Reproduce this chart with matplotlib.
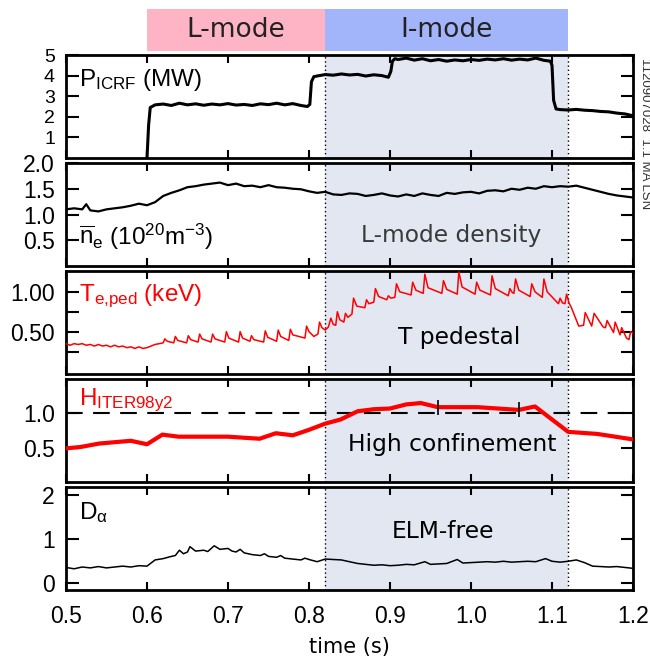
import numpy as np
import matplotlib
matplotlib.use('Agg')
import matplotlib.pyplot as plt

plt.rcParams['font.family'] = ['Liberation Sans', 'DejaVu Sans']
plt.rcParams['mathtext.fontset'] = 'custom'
plt.rcParams['mathtext.rm'] = 'Liberation Sans'
plt.rcParams['mathtext.it'] = 'Liberation Sans:italic'
plt.rcParams['mathtext.default'] = 'regular'

# ICRF power (MW)
p_t = [0.600, 0.602, 0.604, 0.61, 0.62, 0.63, 0.64, 0.65, 0.66, 0.67, 0.68,
       0.69, 0.70, 0.71, 0.72, 0.73, 0.74, 0.75, 0.76, 0.77, 0.78, 0.79, 0.798, 0.801,
       0.803, 0.806, 0.81, 0.82, 0.83, 0.84, 0.85, 0.86, 0.87, 0.88, 0.89, 0.898, 0.901,
       0.903, 0.906, 0.91, 0.92, 0.93, 0.94, 0.95, 0.96, 0.97, 0.98, 0.99, 1.00, 1.01,
       1.02, 1.03, 1.04, 1.05, 1.06, 1.07, 1.08, 1.09, 1.098, 1.100, 1.102, 1.105, 1.11,
       1.12, 1.13, 1.14, 1.15, 1.16, 1.17, 1.18, 1.19, 1.20]
p_v = [0.0, 1.6, 2.45, 2.58, 2.62, 2.55, 2.66, 2.58, 2.63, 2.56, 2.62,
       2.58, 2.64, 2.57, 2.60, 2.55, 2.63, 2.59, 2.66, 2.58, 2.64, 2.55, 2.50, 2.6,
       3.7, 3.95, 3.98, 4.05, 4.02, 4.08, 4.03, 4.06, 3.98, 4.04, 4.0, 3.92, 4.2,
       4.7, 4.82, 4.78, 4.85, 4.75, 4.82, 4.72, 4.78, 4.70, 4.76, 4.72, 4.78, 4.74,
       4.80, 4.76, 4.82, 4.75, 4.80, 4.76, 4.85, 4.74, 4.70, 4.5, 2.8, 2.38, 2.35,
       2.33, 2.36, 2.32, 2.30, 2.26, 2.24, 2.18, 2.14, 2.05]

# line averaged density (1e20 m^-3)
ne_t = [0.50, 0.51, 0.52, 0.525, 0.53, 0.54, 0.55, 0.56, 0.57, 0.58, 0.59, 0.60, 0.61,
        0.62, 0.63, 0.64, 0.65, 0.66, 0.67, 0.68, 0.69, 0.70, 0.71, 0.72, 0.73, 0.74,
        0.75, 0.76, 0.77, 0.78, 0.79, 0.80, 0.81, 0.82, 0.83, 0.84, 0.85, 0.86, 0.87,
        0.88, 0.89, 0.90, 0.91, 0.92, 0.93, 0.94, 0.95, 0.96, 0.97, 0.98, 0.99, 1.00,
        1.01, 1.02, 1.03, 1.04, 1.05, 1.06, 1.07, 1.08, 1.09, 1.10, 1.11, 1.12, 1.13,
        1.14, 1.15, 1.16, 1.17, 1.18, 1.19, 1.20]
ne_v = [1.10, 1.12, 1.10, 1.20, 1.08, 1.06, 1.10, 1.12, 1.14, 1.17, 1.21, 1.18, 1.24,
        1.36, 1.42, 1.47, 1.53, 1.55, 1.58, 1.60, 1.62, 1.57, 1.60, 1.55, 1.56, 1.53,
        1.57, 1.53, 1.52, 1.50, 1.49, 1.45, 1.42, 1.44, 1.39, 1.38, 1.41, 1.40, 1.36,
        1.38, 1.41, 1.37, 1.35, 1.39, 1.36, 1.41, 1.38, 1.36, 1.42, 1.40, 1.43, 1.44,
        1.41, 1.46, 1.47, 1.45, 1.50, 1.48, 1.52, 1.50, 1.55, 1.53, 1.55, 1.54, 1.56,
        1.52, 1.48, 1.44, 1.40, 1.37, 1.35, 1.33]

# pedestal temperature (keV)
te_t = [0.500, 0.505, 0.510, 0.515, 0.520, 0.525, 0.530, 0.535, 0.540, 0.545, 0.550,
        0.555, 0.560, 0.565, 0.570, 0.575, 0.580, 0.585, 0.590, 0.595, 0.600, 0.605,
        0.610, 0.615, 0.620,
        0.622, 0.625, 0.633, 0.635, 0.638, 0.649, 0.651, 0.654, 0.663, 0.665, 0.668,
        0.679, 0.681, 0.684, 0.696, 0.698, 0.701, 0.713, 0.715, 0.718, 0.727, 0.729,
        0.732, 0.744, 0.746, 0.749, 0.760, 0.762, 0.765, 0.775, 0.777, 0.780, 0.795,
        0.797, 0.800, 0.806, 0.811, 0.813, 0.816, 0.820, 0.824, 0.827, 0.830, 0.833,
        0.835, 0.838, 0.843, 0.845, 0.848, 0.853, 0.855, 0.859, 0.869, 0.871, 0.874,
        0.880, 0.882, 0.886, 0.896, 0.898, 0.901, 0.906, 0.908, 0.912, 0.926, 0.928,
        0.932, 0.941, 0.943, 0.947, 0.964, 0.966, 0.970, 0.983, 0.985, 0.989, 1.005,
        1.007, 1.011, 1.024, 1.026, 1.030, 1.046, 1.048, 1.051, 1.053, 1.055, 1.059,
        1.073, 1.075, 1.079, 1.088, 1.090, 1.094, 1.108, 1.110, 1.113, 1.116, 1.118,
        1.121, 1.124, 1.133, 1.139, 1.141, 1.149, 1.152, 1.163, 1.166, 1.168, 1.176,
        1.178, 1.184, 1.186, 1.192, 1.195, 1.197, 1.200]
te_v = [0.35, 0.33, 0.35, 0.34, 0.35, 0.33, 0.34, 0.32, 0.34, 0.32, 0.33,
        0.31, 0.33, 0.31, 0.32, 0.30, 0.31, 0.29, 0.31, 0.29, 0.30, 0.32,
        0.34, 0.35, 0.36,
        0.41, 0.38, 0.36, 0.44, 0.39, 0.36, 0.45, 0.40, 0.37, 0.47, 0.41,
        0.37, 0.47, 0.41, 0.37, 0.50, 0.42, 0.37, 0.50, 0.42, 0.38, 0.45,
        0.40, 0.37, 0.51, 0.43, 0.38, 0.52, 0.44, 0.39, 0.53, 0.46, 0.42,
        0.57, 0.50, 0.44, 0.47, 0.62, 0.55, 0.52, 0.56, 0.67, 0.59, 0.58,
        0.75, 0.65, 0.62, 0.73, 0.68, 0.72, 0.92, 0.82, 0.80, 0.90, 0.85,
        0.87, 1.04, 0.94, 0.90, 0.95, 0.92, 0.93, 1.10, 1.00, 0.96, 1.12,
        1.02, 0.98, 1.22, 1.05, 0.98, 1.14, 1.03, 0.97, 1.25, 1.06, 0.97,
        1.12, 1.02, 0.96, 1.20, 1.04, 0.95, 1.04, 0.99, 0.98, 1.16, 1.02,
        0.94, 1.10, 1.00, 0.93, 1.16, 1.00, 0.85, 0.92, 0.86, 0.85, 0.97,
        0.86, 0.80, 0.57, 0.58, 0.74, 0.57, 0.73, 0.56, 0.55, 0.64, 0.49,
        0.62, 0.46, 0.55, 0.42, 0.40, 0.50, 0.48]

# confinement factor H_ITER98y2
h_t = [0.50, 0.518, 0.541, 0.58, 0.60, 0.619, 0.639, 0.70, 0.739, 0.759, 0.78, 0.80,
       0.82, 0.839, 0.86, 0.88, 0.90, 0.92, 0.938, 0.959, 1.008, 1.059, 1.079, 1.12,
       1.156, 1.20]
h_v = [0.49, 0.51, 0.56, 0.60, 0.55, 0.69, 0.66, 0.66, 0.63, 0.71, 0.68, 0.76,
       0.85, 0.91, 1.03, 1.06, 1.07, 1.13, 1.15, 1.09, 1.09, 1.05, 1.10, 0.73,
       0.70, 0.62]
h_err_t = [0.959, 1.059]
h_err_v = [1.09, 1.05]
h_err = [0.11, 0.11]

# D-alpha
da_t = [0.50, 0.51, 0.52, 0.53, 0.54, 0.55, 0.56, 0.57, 0.58, 0.59, 0.60, 0.605, 0.61,
        0.62, 0.63, 0.635, 0.64, 0.645, 0.65, 0.653, 0.66, 0.67, 0.675, 0.683, 0.69,
        0.70, 0.705, 0.71, 0.715, 0.72, 0.73, 0.74, 0.745, 0.75, 0.76, 0.765, 0.77,
        0.78, 0.79, 0.795, 0.80, 0.81, 0.82, 0.83, 0.84, 0.85, 0.86, 0.87, 0.88, 0.89,
        0.90, 0.91, 0.92, 0.93, 0.943, 0.95, 0.96, 0.97, 0.983, 0.99, 1.00, 1.01, 1.02,
        1.03, 1.04, 1.05, 1.06, 1.07, 1.08, 1.092, 1.10, 1.11, 1.12, 1.13, 1.14, 1.15,
        1.16, 1.17, 1.18, 1.19, 1.20]
da_v = [0.35, 0.32, 0.36, 0.34, 0.37, 0.34, 0.36, 0.38, 0.36, 0.39, 0.38, 0.45, 0.52,
        0.55, 0.60, 0.62, 0.74, 0.66, 0.70, 0.82, 0.72, 0.74, 0.71, 0.84, 0.76,
        0.78, 0.72, 0.70, 0.76, 0.68, 0.64, 0.62, 0.66, 0.60, 0.58, 0.62, 0.56,
        0.54, 0.52, 0.56, 0.53, 0.48, 0.54, 0.53, 0.52, 0.48, 0.44, 0.42, 0.40, 0.41,
        0.39, 0.40, 0.42, 0.41, 0.48, 0.42, 0.43, 0.44, 0.53, 0.45, 0.46, 0.47, 0.48,
        0.47, 0.49, 0.47, 0.48, 0.49, 0.48, 0.55, 0.49, 0.47, 0.49, 0.52, 0.46, 0.38,
        0.37, 0.36, 0.37, 0.35, 0.33]

l_mode = (0.60, 0.82)
i_mode = (0.82, 1.12)
x_ticks = [0.5, 0.6, 0.7, 0.8, 0.9, 1.0, 1.1, 1.2]

shade = '#E3E7F2'
red = '#FF0000'
note_font = dict(fontsize=16.8, family='DejaVu Sans', ha='center', va='baseline')

W, H = 650, 658
fig = plt.figure(figsize=(6.5, 6.58), dpi=100)
left = 66 / W
width = (633 - 66) / W
tops = [55, 163, 271, 379, 487]
ph = 103
axes = [fig.add_axes([left, 1 - (t + ph) / H, width, ph / H]) for t in tops]

for ax in axes:
    ax.set_xlim(0.5, 1.2)
    ax.axvspan(i_mode[0], i_mode[1], color=shade, lw=0, zorder=0)
    for x in i_mode:
        ax.axvline(x, color='k', ls=(0, (1, 2)), lw=1, zorder=1)
    ax.set_xticks(x_ticks)
    ax.set_xticklabels(['%.1f' % x for x in x_ticks])
    ax.tick_params(axis='y', direction='in', left=True, right=True, length=9,
                   width=1.5, pad=8, labelsize=16.5)
    ax.tick_params(axis='x', direction='in', top=True, bottom=True, length=6,
                   width=1.5, pad=11, labelsize=16.5)
    for s in ax.spines.values():
        s.set_linewidth(2)
    if ax is not axes[-1]:
        ax.tick_params(labelbottom=False)

ax1, ax2, ax3, ax4, ax5 = axes

# P_ICRF
ax1.plot(p_t, p_v, color='k', lw=2.2, zorder=3)
ax1.set_ylim(0, 5)
ax1.set_yticks([1, 2, 3, 4, 5])
ax1.tick_params(axis='y', labelsize=14)
ax1.text(0.516, 3.5, r'P$_{\rm ICRF}$ (MW)', fontsize=17.5, va='baseline', ha='left')

# density
ax2.plot(ne_t, ne_v, color='k', lw=1.6, zorder=3)
ax2.set_ylim(0, 2.0)
ax2.set_yticks([0.5, 1.0, 1.5, 2.0])
ax2.set_yticklabels(['0.5', '1.0', '1.5', '2.0'])
ax2.text(0.516, 0.41, r'$\overline{n}_e$ (10$^{20}$m$^{-3}$)', fontsize=17.5,
         va='baseline', ha='left')
ax2.text(0.975, 0.47, 'L-mode density', color='#3a3a3a', **note_font)

# T pedestal
ax3.plot(te_t, te_v, color=red, lw=1.1, zorder=3)
ax3.set_ylim(-0.03, 1.26)
ax3.set_yticks([0.25, 0.5, 0.75, 1.0])
ax3.set_yticklabels(['', '0.50', '', '1.00'])
ax3.text(0.516, 0.88, r'T$_{\rm e{,}ped}$ (keV)', fontsize=17.5, color=red,
         va='baseline', ha='left')
ax3.text(0.985, 0.344, 'T pedestal', **note_font)

# H factor
ax4.axhline(1.0, color='k', ls=(0, (8, 5)), lw=1.5, zorder=2)
ax4.plot(h_t, h_v, color=red, lw=3, zorder=3)
ax4.errorbar(h_err_t, h_err_v, yerr=h_err, fmt='none', ecolor='k', elinewidth=1.2,
             zorder=4)
ax4.set_ylim(0, 1.5)
ax4.set_yticks([0.5, 1.0])
ax4.set_yticklabels(['0.5', '1.0'])
ax4.text(0.516, 1.12, r'H$_{\rm ITER98y2}$', fontsize=17.5, color=red,
         va='baseline', ha='left')
ax4.text(0.977, 0.446, 'High confinement', **note_font)

# D-alpha
ax5.plot(da_t, da_v, color='k', lw=1.1, zorder=3)
ax5.set_ylim(-0.16, 2.17)
ax5.set_yticks([0, 1, 2])
ax5.text(0.516, 1.44, r'D$_\alpha$', fontsize=17.5, va='baseline', ha='left')
ax5.text(0.966, 1.02, 'ELM-free', **note_font)
ax5.set_xlabel('time (s)', fontsize=15, family='DejaVu Sans', labelpad=6)

# mode banner
bax = fig.add_axes([left, 1 - 51 / H, width, 42 / H])
bax.set_xlim(0.5, 1.2)
bax.set_ylim(0, 1)
bax.axis('off')
bax.axvspan(l_mode[0], l_mode[1], color='#FFB4C5', lw=0)
bax.axvspan(i_mode[0], i_mode[1], color='#A3B5FA', lw=0)
bax.text(sum(l_mode) / 2, 0.5, 'L-mode', fontsize=19, family='DejaVu Sans',
         color='#222222', ha='center', va='center')
bax.text(sum(i_mode) / 2, 0.5, 'I-mode', fontsize=19, family='DejaVu Sans',
         color='#222222', ha='center', va='center')

fig.text(645 / W, 1 - 58 / H, '1120907028  1.1 MA LSN', rotation=-90, fontsize=9.5,
         color='#333333', ha='center', va='top')

fig.savefig('out.png', dpi=100)
